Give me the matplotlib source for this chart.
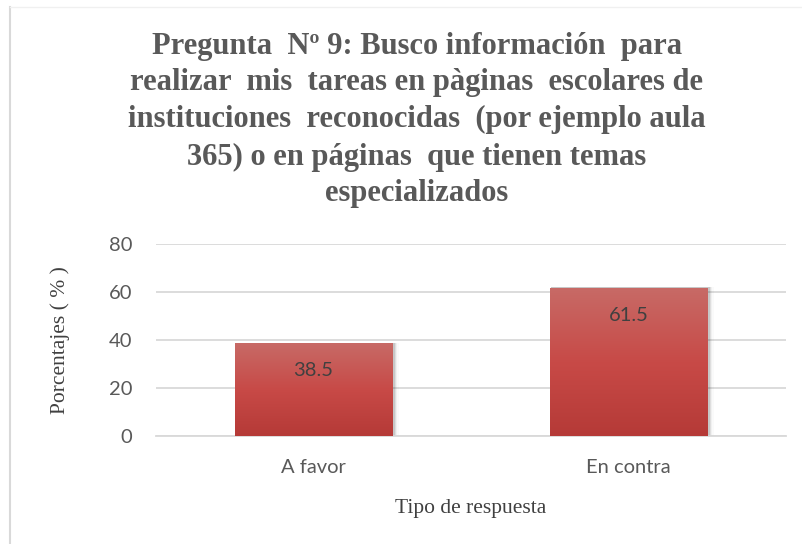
import numpy as np
import matplotlib.pyplot as plt
from matplotlib.colors import LinearSegmentedColormap
from matplotlib.patches import Rectangle
from matplotlib.lines import Line2D

categories = ["A favor", "En contra"]
values = [38.5, 61.5]
yticks = [0, 20, 40, 60, 80]
title = ("Pregunta  Nº 9: Busco información  para\n"
         "realizar  mis  tareas en pàginas  escolares de\n"
         "instituciones  reconocidas  (por ejemplo aula\n"
         "365) o en páginas  que tienen temas\n"
         "especializados")

fig = plt.figure(figsize=(8.03, 5.44), dpi=100)
W, H = 803, 544
ax = fig.add_axes([156 / W, 1 - 435.7 / H, 630 / W, 192 / H])

# chart frame (only left/top edges visible in the crop)
fig.add_artist(Line2D([10 / W, 10 / W], [0, 1 - 7 / H], transform=fig.transFigure,
                      color="#d9d9d9", lw=1.5))
fig.add_artist(Line2D([10 / W, 1], [1 - 7 / H, 1 - 7 / H], transform=fig.transFigure,
                      color="#f0f0f0", lw=1))

x = np.arange(len(categories)) + 0.5
width = 0.5
cmap = LinearSegmentedColormap.from_list("bar", ["#b53a37", "#c84a47", "#c76a66"])
grad = np.linspace(0, 1, 256).reshape(-1, 1)

for xi, v in zip(x, values):
    # soft shadow on the right side
    for k, a in enumerate([0.10, 0.07, 0.04, 0.02]):
        sh = Rectangle((xi - width / 2 + 0.004, 0), width + 0.004 * (k + 1), v + 0.3,
                       facecolor="black", edgecolor="none", alpha=a, zorder=2)
        ax.add_patch(sh)
    rect = Rectangle((xi - width / 2, 0), width, v, facecolor="none", edgecolor="none", zorder=3)
    ax.add_patch(rect)
    im = ax.imshow(grad, cmap=cmap, aspect="auto", origin="lower",
                   extent=[xi - width / 2, xi + width / 2, 0, v], zorder=3)
    im.set_clip_path(rect)
    ax.text(xi, v - 11.5, f"{v}", ha="center", va="center", fontsize=14.5,
            family="Lato", color="#404040", zorder=4)

ax.set_xlim(0, 2)
ax.set_ylim(0, 80)
ax.set_yticks(yticks)
ax.set_yticklabels([str(t) for t in yticks], family="Lato", fontsize=14.5, color="#595959")
ax.set_xticks(x)
ax.set_xticklabels(categories, family="Lato", fontsize=14.5, color="#595959")
ax.tick_params(axis="y", length=0, pad=17)
ax.tick_params(axis="x", length=0, pad=17)
ax.grid(axis="y", color="#d9d9d9", lw=1.3, zorder=0)
ax.set_axisbelow(True)
for s in ["top", "right", "left"]:
    ax.spines[s].set_visible(False)
ax.spines["bottom"].set_color("#d9d9d9")
ax.spines["bottom"].set_linewidth(1.3)

ax.set_ylabel("Porcentajes ( % )", family="Liberation Serif", fontsize=15.5,
              color="#404040", labelpad=28)
ax.set_xlabel("Tipo de respuesta", family="Liberation Serif", fontsize=15.5,
              color="#404040", labelpad=16)

fig.text(417 / W, 1 - 120 / H, title, ha="center", va="center", family="Liberation Serif",
         fontweight="bold", fontsize=22, color="#595959", linespacing=1.36)

fig.savefig("out.png", dpi=100)
